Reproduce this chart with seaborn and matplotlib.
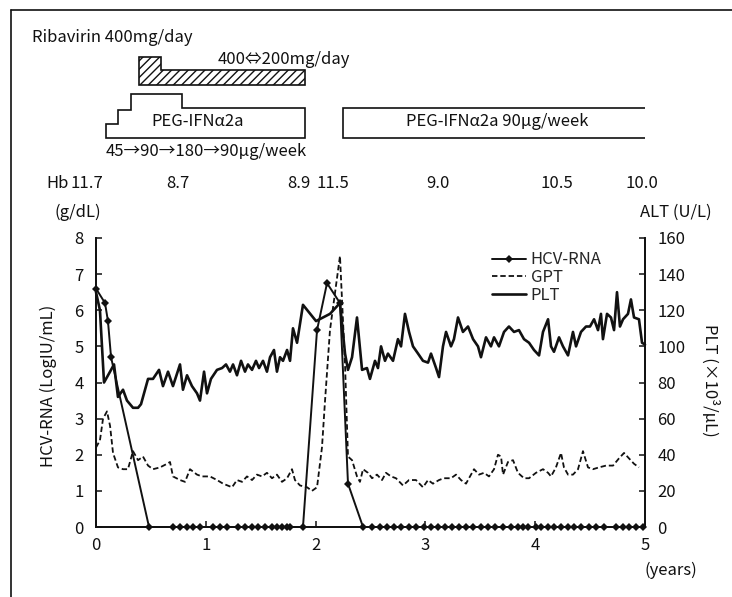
import pandas as pd
import seaborn as sns
import matplotlib.pyplot as plt
from matplotlib.lines import Line2D
from matplotlib.patches import Polygon
import matplotlib.transforms as mtransforms

# Set seaborn style, then the font list (set_theme resets font.family)
sns.set_theme(style='ticks')
plt.rcParams['font.family'] = ['Noto Sans CJK JP', 'DejaVu Sans']

ink = '#111111'

# HCV-RNA (LogIU/mL), left axis
hcv_years = [0.000, 0.082, 0.109, 0.137, 0.483, 0.701, 0.765, 0.829, 0.883, 0.947,
             1.066, 1.129, 1.193, 1.293, 1.357, 1.421, 1.475, 1.539, 1.603, 1.648,
             1.694, 1.740, 1.767, 1.885, 2.013, 2.104, 2.222, 2.295, 2.432, 2.514,
             2.587, 2.650, 2.714, 2.778, 2.851, 2.914, 2.987, 3.051, 3.115, 3.179,
             3.242, 3.306, 3.370, 3.434, 3.506, 3.570, 3.634, 3.707, 3.780, 3.843,
             3.889, 3.934, 4.007, 4.053, 4.117, 4.171, 4.235, 4.299, 4.353, 4.417,
             4.490, 4.554, 4.627, 4.736, 4.800, 4.854, 4.918, 4.982]
hcv_log = [6.6, 6.2, 5.7, 4.7] + [0] * 20 + [5.45, 6.75, 6.2, 1.2] + [0] * 40

# GPT / ALT (U/L), right axis
gpt_years = [0.000, 0.036, 0.064, 0.100, 0.128, 0.155, 0.200, 0.246, 0.291, 0.337,
             0.383, 0.428, 0.474, 0.519, 0.583, 0.647, 0.674, 0.701, 0.765, 0.811,
             0.856, 0.920, 0.965, 1.038, 1.102, 1.157, 1.239, 1.284, 1.330, 1.375,
             1.421, 1.466, 1.512, 1.557, 1.603, 1.648, 1.694, 1.740, 1.785, 1.812,
             1.858, 1.922, 1.967, 2.013, 2.058, 2.086, 2.131, 2.222, 2.268, 2.295,
             2.332, 2.377, 2.404, 2.432, 2.477, 2.514, 2.559, 2.605, 2.641, 2.687,
             2.732, 2.796, 2.851, 2.914, 2.978, 3.024, 3.069, 3.124, 3.169, 3.233,
             3.279, 3.324, 3.370, 3.397, 3.443, 3.488, 3.534, 3.579, 3.625, 3.661,
             3.689, 3.707, 3.752, 3.798, 3.843, 3.898, 3.944, 4.007, 4.071, 4.117,
             4.144, 4.189, 4.235, 4.262, 4.299, 4.344, 4.390, 4.435, 4.481, 4.526,
             4.581, 4.645, 4.709, 4.763, 4.809, 4.854, 4.900, 4.945]
gpt_alt = [44, 48, 60, 64, 56, 41, 33, 32, 32, 42,
           37, 39, 34, 32, 33, 35, 36, 28, 26, 25,
           32, 29, 28, 28, 26, 24, 22, 26, 25, 28,
           26, 29, 28, 30, 27, 29, 25, 27, 32, 26,
           23, 22, 20, 22, 44, 70, 109, 150, 90, 39,
           37, 28, 25, 32, 30, 27, 29, 26, 30, 28,
           27, 23, 26, 26, 22, 26, 24, 26, 27, 27,
           29, 26, 24, 27, 32, 29, 30, 28, 32, 40,
           39, 29, 36, 37, 30, 27, 27, 30, 32, 30,
           28, 33, 41, 33, 29, 29, 32, 42, 33, 32,
           33, 34, 34, 38, 41, 38, 35, 33]

# PLT (x10^3/uL), right axis
plt_years = [0.000, 0.036, 0.073, 0.128, 0.164, 0.200, 0.246, 0.282, 0.337, 0.383,
             0.410, 0.474, 0.519, 0.574, 0.610, 0.656, 0.701, 0.765, 0.792, 0.829,
             0.874, 0.920, 0.947, 0.984, 1.011, 1.047, 1.102, 1.148, 1.184, 1.220,
             1.248, 1.284, 1.321, 1.357, 1.384, 1.421, 1.457, 1.485, 1.521, 1.557,
             1.585, 1.621, 1.648, 1.676, 1.703, 1.740, 1.767, 1.794, 1.831, 1.885,
             2.004, 2.131, 2.222, 2.268, 2.295, 2.332, 2.377, 2.423, 2.468, 2.495,
             2.541, 2.568, 2.596, 2.632, 2.659, 2.705, 2.750, 2.778, 2.814, 2.851,
             2.887, 2.933, 2.978, 3.024, 3.051, 3.097, 3.124, 3.160, 3.188, 3.233,
             3.260, 3.297, 3.342, 3.388, 3.434, 3.479, 3.506, 3.552, 3.597, 3.625,
             3.670, 3.716, 3.761, 3.807, 3.852, 3.898, 3.944, 3.989, 4.035, 4.071,
             4.117, 4.144, 4.171, 4.217, 4.253, 4.299, 4.344, 4.372, 4.417, 4.463,
             4.499, 4.536, 4.572, 4.599, 4.617, 4.654, 4.690, 4.718, 4.745, 4.772,
             4.800, 4.845, 4.872, 4.900, 4.945, 4.973, 5.000]
plt_count = [130, 120, 80, 86, 90, 72, 76, 70, 66, 66,
             68, 82, 82, 87, 78, 86, 78, 90, 76, 84,
             78, 74, 70, 86, 74, 82, 87, 88, 90, 86,
             90, 84, 92, 86, 90, 87, 92, 88, 92, 86,
             94, 98, 86, 94, 92, 98, 92, 110, 102, 123,
             114, 118, 124, 96, 87, 94, 116, 87, 88, 82,
             92, 88, 100, 92, 96, 92, 104, 100, 118, 108,
             100, 96, 92, 91, 96, 88, 83, 100, 108, 100,
             104, 116, 108, 111, 104, 100, 94, 105, 100, 105,
             100, 108, 111, 108, 109, 104, 102, 98, 95, 108,
             115, 100, 97, 105, 100, 95, 108, 100, 108, 111,
             111, 115, 109, 118, 104, 118, 116, 109, 130, 111,
             115, 118, 126, 116, 115, 102, 101]

# Hb (g/dL) values over time
hb_years = [-0.08, 0.75, 1.85, 2.16, 3.11, 4.20, 4.97]
hb_labels = ['11.7', '8.7', '8.9', '11.5', '9.0', '10.5', '10.0']

# Treatment periods (years)
rbv_full = (0.39, 0.59)      # 400 mg/day
rbv_alt = (0.59, 1.90)       # 400<->200 mg/day
peg_steps = [0.09, 0.20, 0.32, 0.78, 1.90]   # 45 -> 90 -> 180 -> 90 ug/week
peg_second = (2.25, 5.01)    # 90 ug/week

W, H = 732, 597
fs = 12
fig = plt.figure(figsize=(W / 100, H / 100), dpi=100)
ax = fig.add_axes([96 / W, 1 - 527 / H, (645 - 96) / W, (527 - 238) / H])
ax2 = ax.twinx()

hcv = pd.DataFrame({'years': hcv_years, 'value': hcv_log})
gpt = pd.DataFrame({'years': gpt_years, 'value': gpt_alt})
pltc = pd.DataFrame({'years': plt_years, 'value': plt_count})

sns.lineplot(data=gpt, x='years', y='value', ax=ax2, color=ink, lw=1.3,
             linestyle=(0, (3, 1.6)), estimator=None)
sns.lineplot(data=pltc, x='years', y='value', ax=ax2, color=ink, lw=1.9,
             estimator=None)
sns.lineplot(data=hcv, x='years', y='value', ax=ax, color=ink, lw=1.4,
             marker='D', markersize=4.5, markeredgewidth=0, estimator=None)
for a in (ax, ax2):
    for ln in a.lines:
        ln.set_clip_on(False)

ax.set_xlim(0, 5)
ax.set_ylim(0, 8)
ax2.set_ylim(0, 160)
ax.set_xticks(range(6))
ax.set_yticks(range(9))
ax2.set_yticks(range(0, 161, 20))
ax.set_xlabel('')
ax.set_ylabel('')
ax2.set_ylabel('')
ax.spines['top'].set_visible(False)
ax2.spines['top'].set_visible(False)
for a in (ax, ax2):
    for s in a.spines.values():
        s.set_linewidth(1.3)
        s.set_color(ink)
ax.tick_params(axis='y', direction='in', length=4, width=1.1, labelsize=fs, pad=9, colors=ink)
ax.tick_params(axis='x', direction='in', length=4, width=1.1, labelsize=fs, pad=7, colors=ink)
ax2.tick_params(axis='y', direction='in', length=4, width=1.1, labelsize=fs, pad=9, colors=ink)

# Legend
handles = [Line2D([], [], color=ink, lw=1.4, marker='D', markersize=4.5, markeredgewidth=0),
           Line2D([], [], color=ink, lw=1.3, linestyle=(0, (3, 1.6))),
           Line2D([], [], color=ink, lw=1.9)]
fig.legend(handles, ['HCV-RNA', 'GPT', 'PLT'], loc='upper left',
           bbox_to_anchor=(484 / W, 1 - 243 / H), frameon=False, fontsize=fs,
           handlelength=2.0, handletextpad=0.3, labelspacing=0.05, borderpad=0)

# Axis labels and units
fig.text(48 / W, 1 - 386 / H, 'HCV-RNA (LogIU/mL)', rotation=90, ha='center', va='center',
         fontsize=fs, color=ink)
fig.text(710 / W, 1 - 380 / H, 'PLT (×10³/μL)', rotation=270, ha='center', va='center',
         fontsize=fs, color=ink)
fig.text(55 / W, 1 - 212 / H, '(g/dL)', ha='left', va='center', fontsize=fs, color=ink)
fig.text(640 / W, 1 - 212 / H, 'ALT (U/L)', ha='left', va='center', fontsize=fs, color=ink)
fig.text(671 / W, 1 - 570 / H, '(years)', ha='center', va='center', fontsize=fs, color=ink)

# Hb row
fig.text(69 / W, 1 - 184 / H, 'Hb', ha='right', va='center', fontsize=fs, color=ink)
hb_trans = mtransforms.blended_transform_factory(ax.transData, fig.transFigure)
for yr, lab in zip(hb_years, hb_labels):
    ax.text(yr, 1 - 184 / H, lab, transform=hb_trans, ha='center', va='center',
            fontsize=fs, color=ink)

# Treatment schedule panel (y in pixel rows of the picture)
top = fig.add_axes([96 / W, 1 - 170 / H, (645 - 96) / W, 145 / H])
top.set_xlim(0, 5)
top.set_ylim(170, 25)
top.axis('off')
x0, x1 = rbv_full
x2 = rbv_alt[1]
top.add_patch(Polygon([(x0, 85), (x0, 57), (x1, 57), (x1, 70), (x2, 70), (x2, 85)],
                      closed=True, fill=False, hatch='////', edgecolor=ink, lw=1.2))
s = peg_steps
top.add_patch(Polygon([(s[0], 138), (s[0], 124), (s[1], 124), (s[1], 110), (s[2], 110),
                       (s[2], 94), (s[3], 94), (s[3], 108), (s[4], 108), (s[4], 138)],
                      closed=True, fill=False, edgecolor=ink, lw=1.2))
top.add_patch(Polygon([(peg_second[0], 138), (peg_second[0], 108), (peg_second[1], 108),
                       (peg_second[1], 138)], closed=True, fill=False, edgecolor=ink, lw=1.2))

fig.text(32 / W, 1 - 38 / H, 'Ribavirin 400mg/day', ha='left', va='center', fontsize=fs, color=ink)
fig.text(218 / W, 1 - 59 / H, '400⇔200mg/day', ha='left', va='center', fontsize=fs, color=ink)
fig.text(198 / W, 1 - 122 / H, 'PEG-IFNα2a', ha='center', va='center', fontsize=fs, color=ink)
fig.text(106 / W, 1 - 151 / H, '45→90→180→90μg/week', ha='left', va='center', fontsize=fs, color=ink)
fig.text(497 / W, 1 - 122 / H, 'PEG-IFNα2a 90μg/week', ha='center', va='center', fontsize=fs, color=ink)

# Scanned page frame
fig.add_artist(Line2D([11 / W, 11 / W], [0, 1 - 10 / H], transform=fig.transFigure, color=ink, lw=1.2))
fig.add_artist(Line2D([11 / W, 1], [1 - 10 / H, 1 - 10 / H], transform=fig.transFigure, color=ink, lw=1.2))

plt.savefig('out.png', dpi=100)
